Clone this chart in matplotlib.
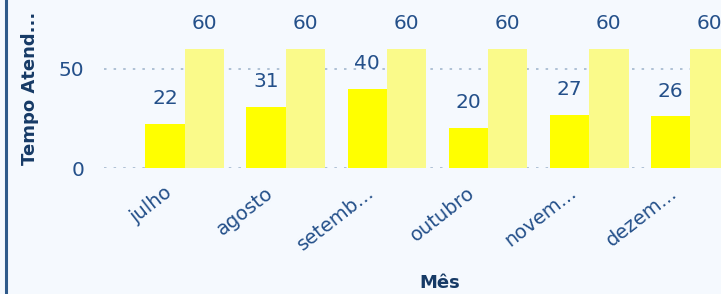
import matplotlib
matplotlib.use("Agg")
import matplotlib.pyplot as plt
import matplotlib.transforms as mtransforms
import numpy as np
from matplotlib.lines import Line2D

meses = ["julho", "agosto", "setemb...", "outubro", "novem...", "dezem..."]
tempo_atendimento = [22, 31, 40, 20, 27, 26]
meta = [60, 60, 60, 60, 60, 60]
y_ticks = [0, 50]

BG = "#F5F9FE"
TXT = "#24508A"
TITLE = "#163A66"

fig = plt.figure(figsize=(7.21, 2.94), dpi=100, facecolor=BG)
ax = fig.add_axes([104/721, 126/294, 667/721, 168/294], facecolor=BG)

x = np.arange(len(meses))
w = 0.39
ax.bar(x - w/2, tempo_atendimento, width=w, color="#FFFF00", zorder=3)
ax.bar(x + w/2, meta, width=w, color="#FAFA8A", zorder=3)

for xi, v in zip(x, tempo_atendimento):
    ax.annotate(str(v), (xi - w/2, v), xytext=(0, 11.5), textcoords="offset points",
                ha="center", va="bottom", fontsize=14.5, color=TXT)
for xi, v in zip(x, meta):
    ax.annotate(str(v), (xi + w/2, v), xytext=(0, 11.5), textcoords="offset points",
                ha="center", va="bottom", fontsize=14.5, color=TXT)

ax.set_xlim(-0.8, len(meses) - 0.2)
ax.set_ylim(0, 84.8)
ax.set_yticks(y_ticks)
ax.set_yticklabels([str(t) for t in y_ticks], fontsize=14.5, color=TXT)
ax.yaxis.grid(True, linestyle=(0, (1.5, 4.26)), color="#A3B7CE", linewidth=1.2, zorder=0)
ax.set_xticks(x)
ax.set_xticklabels([])
shift = mtransforms.ScaledTranslation(-21/100, -15/100, fig.dpi_scale_trans)
for xi, lab in zip(x, meses):
    ax.text(xi, 0, lab, transform=ax.get_xaxis_transform() + shift,
            rotation=38, ha="right", va="top", rotation_mode="anchor",
            fontsize=14, color=TXT, clip_on=False)
ax.tick_params(axis="both", length=0)
ax.tick_params(axis="y", pad=14)
for s in ax.spines.values():
    s.set_visible(False)

fig.text(440/721, 1 - 283/294, "Mês", ha="center", va="center",
         fontsize=13, fontweight="bold", color=TITLE)
fig.text(30/721, 1 - 88/294, "Tempo Atend...", ha="center", va="center",
         rotation=90, fontsize=13, fontweight="bold", color=TITLE)

fig.add_artist(Line2D([5.5/721, 5.5/721], [0, 1], transform=fig.transFigure,
                      color="#2F5A8A", linewidth=2.2))

fig.savefig("out.png", dpi=100, facecolor=BG)
